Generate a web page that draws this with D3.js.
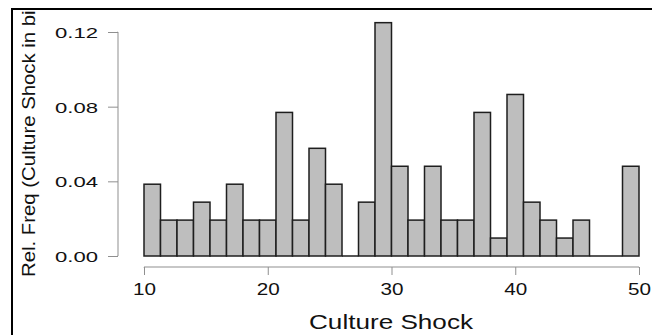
<!DOCTYPE html>
<html>
<head>
<meta charset="utf-8">
<script src="https://cdn.jsdelivr.net/npm/d3@7/dist/d3.min.js"></script>
<style>
  html, body { margin: 0; padding: 0; background: #fff; }
  svg { display: block; }
  text { font-family: "Liberation Sans", Arial, Helvetica, sans-serif; fill: #111; }
</style>
</head>
<body>
<svg id="chart" width="652" height="335"></svg>
<script>
// Histogram bins of Culture Shock (30 bins from 10 to 50), counts out of N = 104
const binStart = 10;
const binEnd = 50;
const binCount = 30;
const counts = [4, 2, 2, 3, 2, 4, 2, 2, 8, 2, 6, 4, 0, 3, 13, 5, 2, 5, 2, 2, 8, 1, 9, 3, 2, 1, 2, 0, 0, 5];
const total = 104;
const relFreq = counts.map(c => c / total);
const xTicks = [10, 20, 30, 40, 50];
const yTicks = [0, 0.04, 0.08, 0.12];
const xTitle = "Culture Shock";
const yTitle = "Rel. Freq (Culture Shock in bins)";

const svg = d3.select("#chart");

const x = d3.scaleLinear().domain([binStart, binEnd]).range([144, 639]);
const y = d3.scaleLinear().domain([0, 0.12]).range([256, 32]);
const binW = (binEnd - binStart) / binCount;

// clip for content inside frame
svg.append("defs").append("clipPath").attr("id", "inner")
  .append("rect").attr("x", 13).attr("y", 10).attr("width", 640).attr("height", 330);

// bars
const bins = relFreq.map((d, i) => ({ v: d, x0: binStart + i * binW, x1: binStart + (i + 1) * binW }));
svg.append("g").selectAll("rect")
  .data(bins.filter(b => b.v > 0))
  .join("rect")
  .attr("x", b => x(b.x0))
  .attr("width", b => x(b.x1) - x(b.x0))
  .attr("y", b => y(b.v))
  .attr("height", b => y(0) - y(b.v))
  .attr("fill", "#bebebe")
  .attr("stroke", "#1e1e1e")
  .attr("stroke-width", 1.5);
// empty bins drawn as flat outlines on the baseline
svg.append("g").selectAll("line")
  .data(bins.filter(b => b.v === 0))
  .join("line")
  .attr("x1", b => x(b.x0))
  .attr("x2", b => x(b.x1))
  .attr("y1", y(0))
  .attr("y2", y(0))
  .attr("stroke", "#1e1e1e")
  .attr("stroke-width", 1.5);

// y axis
const yAxis = d3.axisLeft(y).tickValues(yTicks).tickSize(10).tickPadding(10)
  .tickFormat(d3.format(".2f"));
const gy = svg.append("g").attr("transform", "translate(118,0)").call(yAxis);
gy.select(".domain").attr("stroke", "#8f8f8f").attr("d", `M-0.5,${y(0)}H0V${y(0.12)}H-0.5`);
gy.selectAll(".tick line").attr("stroke", "#8f8f8f");
gy.selectAll(".tick text")
  .attr("font-size", 15)
  .attr("fill", "#111")
  .attr("dy", "0.36em")
  .attr("textLength", 43)
  .attr("lengthAdjust", "spacingAndGlyphs");

// x axis
const xAxis = d3.axisBottom(x).tickValues(xTicks).tickSize(8).tickPadding(9)
  .tickFormat(d3.format("d"));
const gx = svg.append("g").attr("transform", "translate(0,267)").call(xAxis);
gx.select(".domain").attr("stroke", "#8f8f8f").attr("d", `M${x(10)},0.5V0H${x(50)}V0.5`);
gx.selectAll(".tick line").attr("stroke", "#8f8f8f");
gx.selectAll(".tick text")
  .attr("font-size", 16)
  .attr("fill", "#111")
  .attr("dy", "0.71em")
  .attr("textLength", 23)
  .attr("lengthAdjust", "spacingAndGlyphs");

// x title
svg.append("text")
  .attr("x", 391).attr("y", 329)
  .attr("text-anchor", "middle")
  .attr("font-size", 21)
  .attr("textLength", 164)
  .attr("lengthAdjust", "spacingAndGlyphs")
  .text(xTitle);

// y title (clipped by the frame, as in the reference)
svg.append("g").attr("clip-path", "url(#inner)")
  .append("text")
  .attr("transform", "translate(35,277) rotate(-90) scale(1.13,1)")
  .attr("text-anchor", "start")
  .attr("font-size", 18)
  .text(yTitle);

// frame lines (top and left)
svg.append("line").attr("x1", 11).attr("x2", 652).attr("y1", 9).attr("y2", 9)
  .attr("stroke", "#000").attr("stroke-width", 2);
svg.append("line").attr("x1", 12).attr("x2", 12).attr("y1", 8).attr("y2", 335)
  .attr("stroke", "#000").attr("stroke-width", 2);
</script>
</body>
</html>
